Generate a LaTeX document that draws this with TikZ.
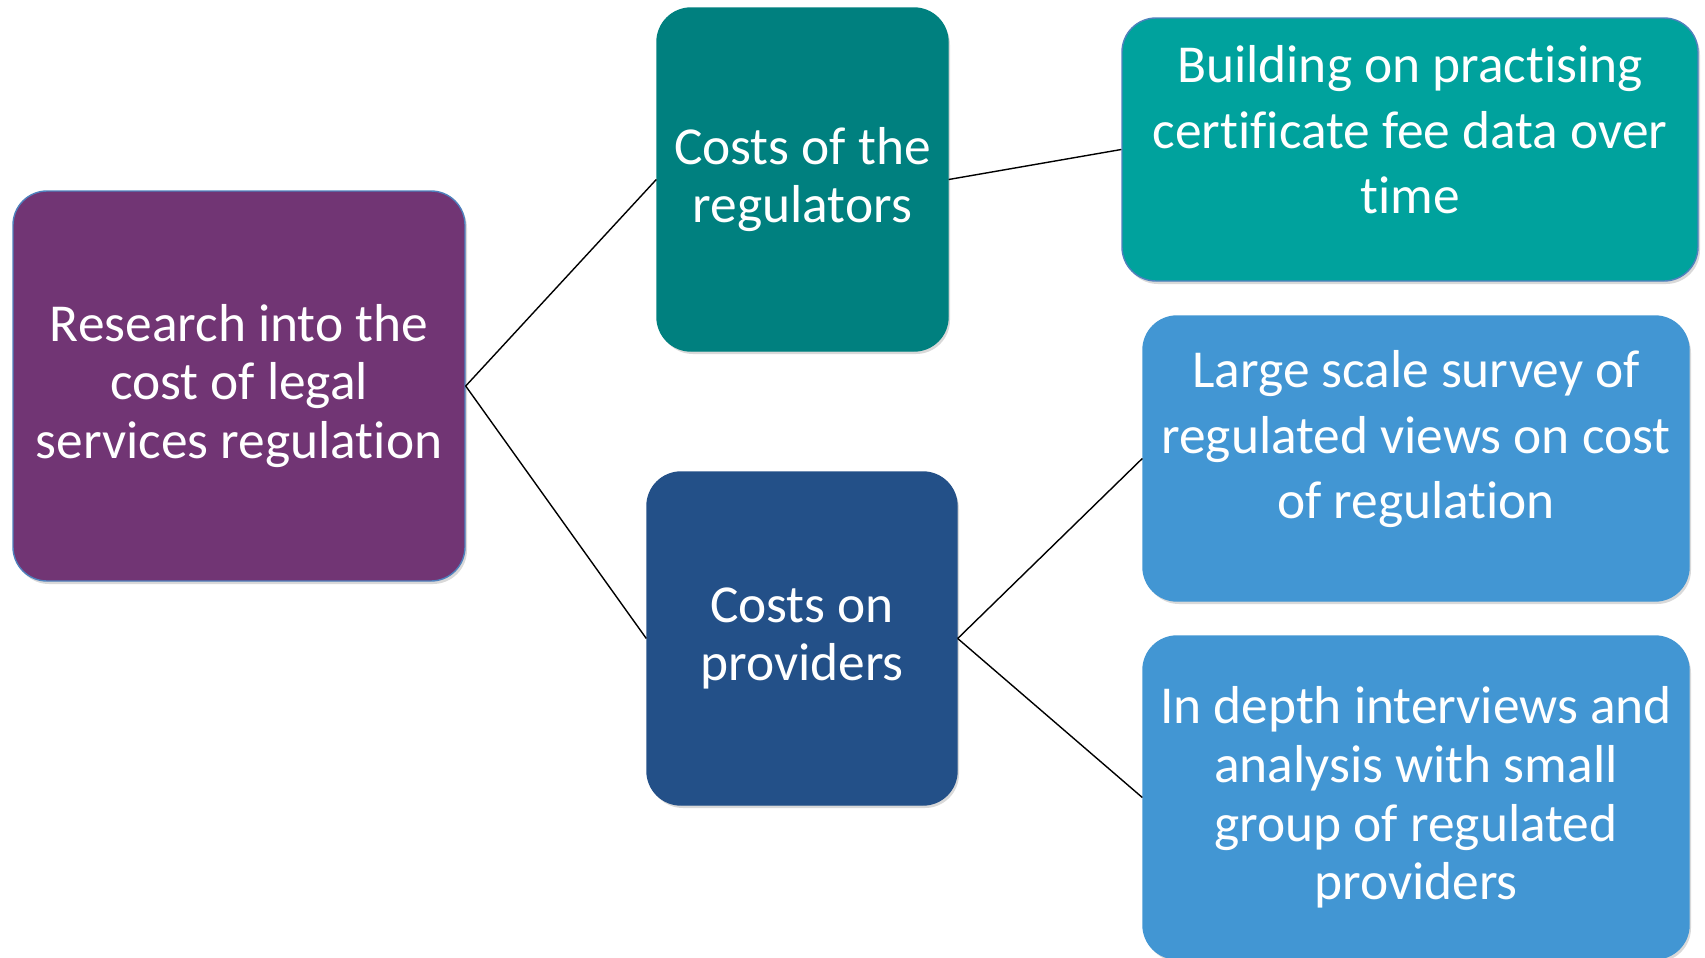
\documentclass[tikz,border=0pt]{standalone}
\usepackage{fontspec}
\setmainfont{Carlito}[Ligatures=CommonOff]
\usetikzlibrary{shadows,positioning}
\definecolor{rootpurple}{HTML}{713574}
\definecolor{regteal}{HTML}{00807F}
\definecolor{buildteal}{HTML}{00A29D}
\definecolor{provblue}{HTML}{235088}
\definecolor{leafblue}{HTML}{4296D3}
\definecolor{edgeblue}{HTML}{4F81BD}
\tikzset{
    box/.style={
        rectangle,
        rounded corners=17pt,
        align=center,
        text=white,
        inner sep=0pt,
        line width=0.7pt,
        font=\fontsize{26.7}{29.3}\selectfont,
        drop shadow={shadow xshift=1pt, shadow yshift=-1.5pt, opacity=0.3}
    },
    bigtext/.style={
        font=\fontsize{26.7}{32.6}\selectfont
    },
    link/.style={
        line width=0.7pt
    }
}

\begin{document}
\begin{tikzpicture}[x=0.5pt,y=-0.5pt]
  \useasboundingbox (0,0) rectangle (1705,958);

  \node[box, fill=rootpurple, draw=edgeblue, minimum width=226pt, minimum height=195pt]
    (root) at (239,386) {Research into the\\cost of legal\\services regulation};

  \node[box, fill=regteal, draw=regteal, minimum width=145.5pt, minimum height=171.5pt]
    (reg) at (802.5,179.5) {Costs of the\\regulators};
  \node[box, fill=provblue, draw=provblue, minimum width=155pt, minimum height=166.5pt]
    (prov) at (802,638.5) {Costs on\\providers};

  \node[box, bigtext, fill=buildteal, draw=edgeblue, minimum width=288pt, minimum height=131.5pt, text depth=20pt]
    (build) at (1410,149.5) {Building on practising\\certificate fee data over\\time};
  \node[box, bigtext, fill=leafblue, draw=leafblue, minimum width=273pt, minimum height=142.5pt, text depth=24pt]
    (survey) at (1416,458.5) {Large scale survey of\\regulated views on cost\\of regulation};
  \node[box, fill=leafblue, draw=leafblue, minimum width=273pt, minimum height=161.5pt]
    (interv) at (1416,797.5) {In depth interviews and\\analysis with small\\group of regulated\\providers};

  % connectors
  \draw[link] (root.east) -- (reg.west);
  \draw[link] (root.east) -- (prov.west);
  \draw[link] (reg.east) -- (build.west);
  \draw[link] (prov.east) -- (survey.west);
  \draw[link] (prov.east) -- (interv.west);

\end{tikzpicture}
\end{document}
